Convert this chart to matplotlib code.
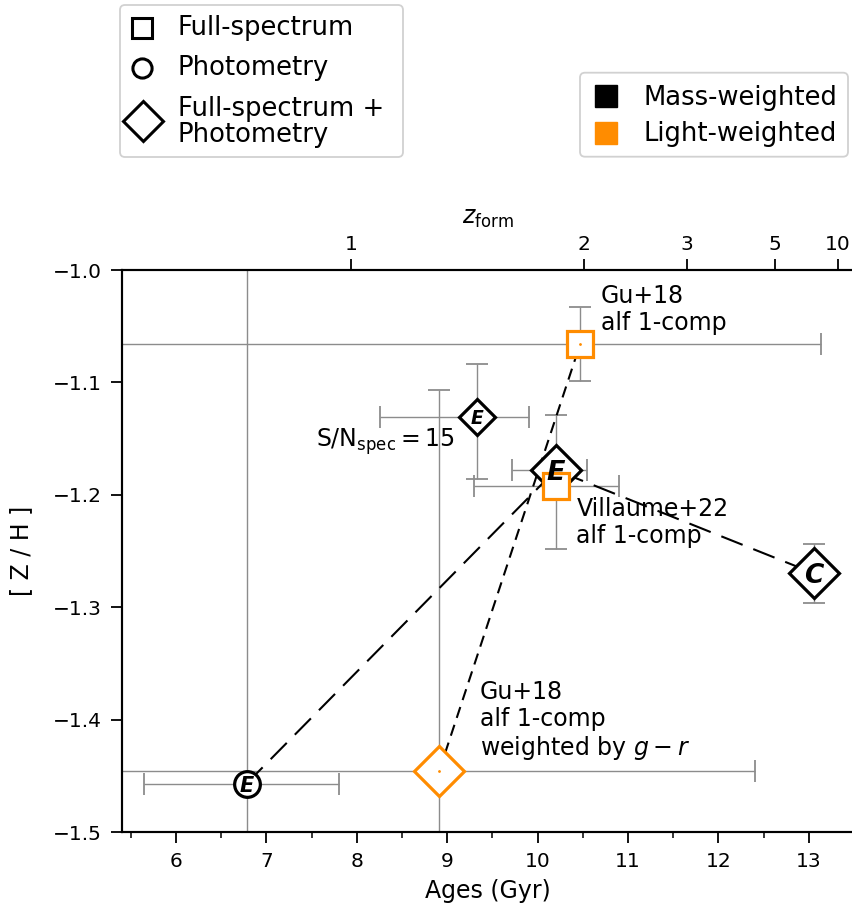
import numpy as np
import matplotlib
matplotlib.use("Agg")
import matplotlib.pyplot as plt
from matplotlib.lines import Line2D
from matplotlib.patches import FancyBboxPatch
from matplotlib.transforms import IdentityTransform

# ---------------------------------------------------------------- data
# Each entry: age (Gyr), [Z/H], age errors (minus, plus), [Z/H] errors (minus, plus)

# Gu+18, alf 1-comp, full spectrum (light-weighted)
gu18_age, gu18_zh = 10.47, -1.066
gu18_age_err = [5.5, 2.66]
gu18_zh_err = [0.033, 0.033]

# Villaume+22, alf 1-comp, full spectrum (light-weighted)
vil22_age, vil22_zh = 10.20, -1.192
vil22_age_err = [0.90, 0.70]
vil22_zh_err = [0.056, 0.063]

# Gu+18 alf 1-comp weighted by g-r, full spectrum + photometry (light-weighted)
gugr_age, gugr_zh = 8.91, -1.446
gugr_age_err = [3.6, 3.49]
gugr_zh_err = [0.34, 0.339]

# Photometry only, model E (mass-weighted)
phot_age, phot_zh = 6.78, -1.457
phot_age_err = [1.13, 1.02]
phot_zh_err = [0.6, 0.6]

# Full spectrum + photometry, model E (mass-weighted)
fsp_e_age, fsp_e_zh = 10.20, -1.178
fsp_e_age_err = [0.48, 0.345]
fsp_e_zh_err = [0.012, 0.012]

# Full spectrum + photometry, model E at S/N_spec = 15 (mass-weighted)
sn15_age, sn15_zh = 9.33, -1.1305
sn15_age_err = [1.07, 0.575]
sn15_zh_err = [0.055, 0.047]

# Full spectrum + photometry, model C (mass-weighted)
fsp_c_age, fsp_c_zh = 13.06, -1.270
fsp_c_age_err = [0.15, 0.15]
fsp_c_zh_err = [0.026, 0.026]

# formation-redshift ticks for the top axis
zform_ticks = [1, 2, 3, 5, 10]

ORANGE = "darkorange"
ERRC = "#8c8c8c"
W, H = 853, 909


def lookback_time(z, H0=67.7, Om=0.31):
    """Flat LCDM lookback time in Gyr."""
    zz = np.linspace(0.0, z, 4001)
    integrand = 1.0 / ((1 + zz) * np.sqrt(Om * (1 + zz) ** 3 + (1 - Om)))
    t_hubble = 977.8 / H0
    return t_hubble * np.trapezoid(integrand, zz)


# ---------------------------------------------------------------- figure
fig = plt.figure(figsize=(W / 100, H / 100), dpi=100)
ax = fig.add_axes([121.8 / W, 77 / H, 732.2 / W, 562 / H])

ax.set_xlim(5.4, 13.5)
ax.set_ylim(-1.5, -1.0)

ebkw = dict(fmt="none", ecolor=ERRC, elinewidth=1.0, capsize=8, capthick=1.3, zorder=1)


def err(a, z, ae, ze):
    ax.errorbar([a], [z], xerr=[[ae[0]], [ae[1]]], yerr=[[ze[0]], [ze[1]]], **ebkw)


err(gu18_age, gu18_zh, gu18_age_err, gu18_zh_err)
err(vil22_age, vil22_zh, vil22_age_err, vil22_zh_err)
err(gugr_age, gugr_zh, gugr_age_err, gugr_zh_err)
err(phot_age, phot_zh, phot_age_err, phot_zh_err)
err(fsp_e_age, fsp_e_zh, fsp_e_age_err, fsp_e_zh_err)
err(sn15_age, sn15_zh, sn15_age_err, sn15_zh_err)
err(fsp_c_age, fsp_c_zh, fsp_c_age_err, fsp_c_zh_err)

# connecting lines
ax.plot([phot_age, fsp_e_age, fsp_c_age], [phot_zh, fsp_e_zh, fsp_c_zh],
        color="k", lw=1.5, dashes=(11, 5.5), zorder=2)
ax.plot([gugr_age, gu18_age], [gugr_zh, gu18_zh],
        color="k", lw=1.5, dashes=(5.5, 3.5), zorder=2)

MEW = 2.3
# mass-weighted markers
ax.plot(phot_age, phot_zh, marker="o", ms=18.5, mfc="white", mec="k", mew=MEW, ls="none", zorder=3)
ax.plot(sn15_age, sn15_zh, marker="D", ms=18, mfc="white", mec="k", mew=MEW, ls="none", zorder=3)
ax.plot(fsp_e_age, fsp_e_zh, marker="D", ms=25, mfc="white", mec="k", mew=MEW, ls="none", zorder=3)
ax.plot(fsp_c_age, fsp_c_zh, marker="D", ms=25, mfc="white", mec="k", mew=MEW, ls="none", zorder=3)

# light-weighted markers
ax.plot(gugr_age, gugr_zh, marker="D", ms=25, mfc="white", mec=ORANGE, mew=MEW, ls="none", zorder=3)
ax.plot(gu18_age, gu18_zh, marker="s", ms=18.5, mfc="white", mec=ORANGE, mew=MEW, ls="none", zorder=4)
ax.plot(vil22_age, vil22_zh, marker="s", ms=18.5, mfc="white", mec=ORANGE, mew=MEW, ls="none", zorder=4)
ax.plot([gugr_age, gu18_age], [gugr_zh, gu18_zh], marker=".", ms=2, color=ORANGE, ls="none", zorder=4.5)

# model letters
lkw = dict(ha="center", va="center_baseline", fontweight="bold", fontstyle="italic", zorder=6, color="k")
ax.text(phot_age, phot_zh, "E", fontsize=15, **lkw)
ax.text(sn15_age, sn15_zh, "E", fontsize=13.5, **lkw)
ax.text(fsp_e_age, fsp_e_zh, "E", fontsize=19.5, **lkw)
ax.text(fsp_c_age, fsp_c_zh, "C", fontsize=19, **lkw)

# annotations (baseline of the last line)
tkw = dict(fontsize=17, va="baseline", linespacing=1.15, zorder=6)
ax.text(10.70, -1.0534, "Gu+18\nalf 1-comp", ha="left", **tkw)
ax.text(10.43, -1.2429, "Villaume+22\nalf 1-comp", ha="left", **tkw)
ax.text(9.363, -1.4315, "Gu+18\nalf 1-comp\nweighted by $g-r$", ha="left", **tkw)
ax.text(9.086, -1.157, r"$\mathrm{S/N_{spec}} = 15$", ha="right", **tkw)

# axes styling
ax.set_xticks(np.arange(6, 14, 1))
ax.set_xticks(np.arange(5.5, 13.51, 0.5), minor=True)
yt = np.round(np.arange(-1.5, -0.99, 0.1), 1)
ax.set_yticks(yt)
ax.set_yticks(np.arange(-1.5, -0.999, 0.025), minor=True)
ax.set_yticklabels([f"{v:.1f}".replace("-", "\u2212") for v in yt])
ax.tick_params(which="major", length=8, width=1.3, labelsize=14.5, direction="out", pad=6.5)
ax.tick_params(which="minor", length=4, width=1.1, direction="out")
for s in ax.spines.values():
    s.set_linewidth(1.5)
ax.spines["right"].set_visible(False)
ax.set_xlabel("Ages (Gyr)", fontsize=17, labelpad=6)
ax.set_ylabel("[ Z / H ]", fontsize=17, labelpad=14)

# top axis: formation redshift
ax2 = ax.twiny()
ax2.set_xlim(ax.get_xlim())
ax2.set_xticks([lookback_time(z) for z in zform_ticks])
ax2.set_xticklabels([str(z) for z in zform_ticks])
ax2.tick_params(which="major", length=8, width=1.3, labelsize=14.5, direction="out")
ax2.minorticks_off()
for s in ax2.spines.values():
    s.set_linewidth(1.5)
ax2.spines["right"].set_visible(False)
ax2.set_xlabel(r"$z_{\rm form}$", fontsize=17, labelpad=8)


# ---------------------------------------------------------------- key boxes
def frame(x0, y0, x1, y1):
    fig.add_artist(FancyBboxPatch((x0, H - y1), x1 - x0, y1 - y0,
                                  boxstyle="round,pad=0,rounding_size=5",
                                  transform=IdentityTransform(),
                                  fc="white", ec="0.8", lw=1.3, alpha=0.9))


def key_marker(x, y, **kw):
    fig.add_artist(Line2D([x / W], [1 - y / H], transform=fig.transFigure, ls="none", **kw))


def key_text(x, y, s, **kw):
    fig.text(x / W, 1 - y / H, s, fontsize=18.6, ha="left", va="baseline", **kw)


frame(120, 5, 403, 157)
key_marker(142.5, 28.3, marker="s", ms=14.8, mfc="white", mec="k", mew=2.2)
key_marker(142.5, 67.5, marker="o", ms=13.8, mfc="white", mec="k", mew=2.2)
key_marker(143.3, 121.0, marker="D", ms=19.9, mfc="white", mec="k", mew=2.2)
key_text(178, 35, "Full-spectrum")
key_text(178, 75, "Photometry")
key_text(178, 141.7, "Full-spectrum +\nPhotometry", linespacing=1.0)

frame(580, 72.7, 848, 156.7)
key_marker(606.3, 96.3, marker="s", ms=15.4, mfc="k", mec="k", mew=1)
key_marker(606.3, 133.3, marker="s", ms=15.4, mfc=ORANGE, mec=ORANGE, mew=1)
key_text(644, 105, "Mass-weighted")
key_text(644, 141, "Light-weighted")

fig.savefig("out.png", dpi=100)
